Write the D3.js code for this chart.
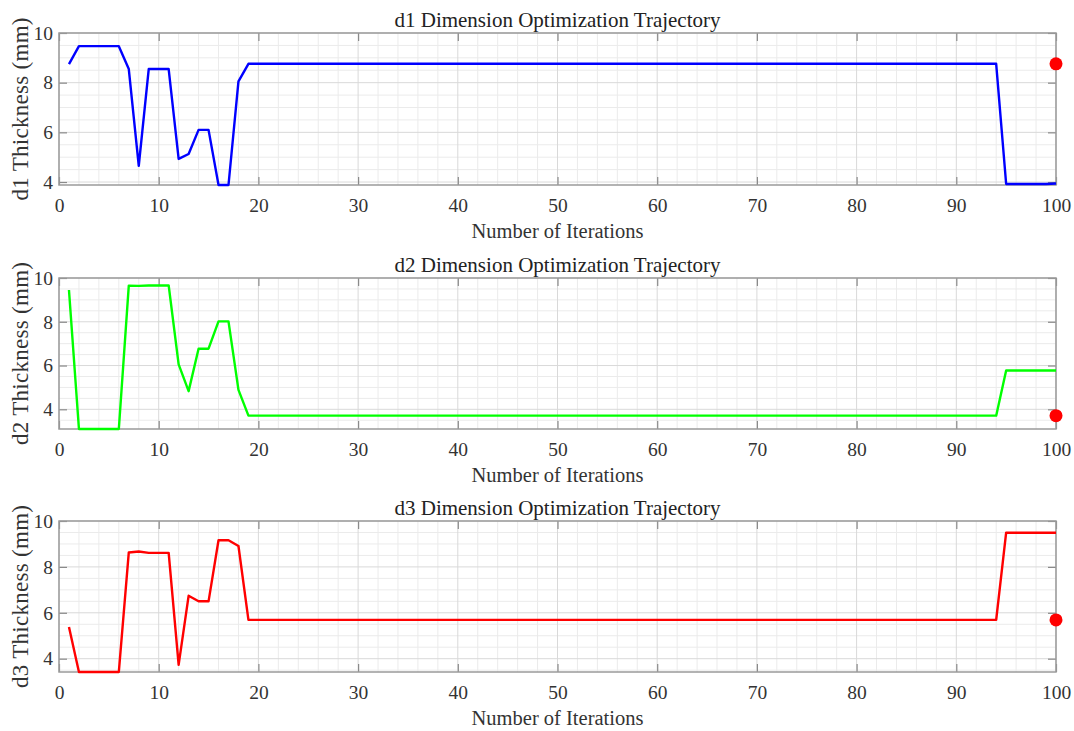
<!DOCTYPE html>
<html><head><meta charset="utf-8">
<script src="https://cdn.jsdelivr.net/npm/d3@7"></script>
<style>body{margin:0;background:#fff} svg{display:block}</style>
</head><body>
<svg id="chart" width="1074" height="731"></svg>
<script>
// ---- data ----
const iterations = d3.range(1, 101);
const d1Values = [8.75, 9.47, 9.47, 9.47, 9.47, 9.47, 8.55, 4.65, 8.55, 8.55,
  8.55, 4.93, 5.13, 6.10, 6.10, 3.88, 3.88, 8.05, 8.76, 8.76,
  8.76, 8.76, 8.76, 8.76, 8.76, 8.76, 8.76, 8.76, 8.76, 8.76,
  8.76, 8.76, 8.76, 8.76, 8.76, 8.76, 8.76, 8.76, 8.76, 8.76,
  8.76, 8.76, 8.76, 8.76, 8.76, 8.76, 8.76, 8.76, 8.76, 8.76,
  8.76, 8.76, 8.76, 8.76, 8.76, 8.76, 8.76, 8.76, 8.76, 8.76,
  8.76, 8.76, 8.76, 8.76, 8.76, 8.76, 8.76, 8.76, 8.76, 8.76,
  8.76, 8.76, 8.76, 8.76, 8.76, 8.76, 8.76, 8.76, 8.76, 8.76,
  8.76, 8.76, 8.76, 8.76, 8.76, 8.76, 8.76, 8.76, 8.76, 8.76,
  8.76, 8.76, 8.76, 8.76, 3.92, 3.92, 3.92, 3.92, 3.92, 3.94];
const d2Values = [9.45, 3.10, 3.10, 3.10, 3.10, 3.10, 9.65, 9.64, 9.66, 9.66,
  9.66, 6.05, 4.83, 6.77, 6.77, 8.02, 8.02, 4.89, 3.71, 3.71,
  3.71, 3.71, 3.71, 3.71, 3.71, 3.71, 3.71, 3.71, 3.71, 3.71,
  3.71, 3.71, 3.71, 3.71, 3.71, 3.71, 3.71, 3.71, 3.71, 3.71,
  3.71, 3.71, 3.71, 3.71, 3.71, 3.71, 3.71, 3.71, 3.71, 3.71,
  3.71, 3.71, 3.71, 3.71, 3.71, 3.71, 3.71, 3.71, 3.71, 3.71,
  3.71, 3.71, 3.71, 3.71, 3.71, 3.71, 3.71, 3.71, 3.71, 3.71,
  3.71, 3.71, 3.71, 3.71, 3.71, 3.71, 3.71, 3.71, 3.71, 3.71,
  3.71, 3.71, 3.71, 3.71, 3.71, 3.71, 3.71, 3.71, 3.71, 3.71,
  3.71, 3.71, 3.71, 3.71, 5.77, 5.77, 5.77, 5.77, 5.77, 5.77];
const d3Values = [5.38, 3.42, 3.42, 3.42, 3.42, 3.42, 8.63, 8.67, 8.61, 8.61,
  8.61, 3.73, 6.74, 6.50, 6.50, 9.16, 9.16, 8.91, 5.69, 5.69,
  5.69, 5.69, 5.69, 5.69, 5.69, 5.69, 5.69, 5.69, 5.69, 5.69,
  5.69, 5.69, 5.69, 5.69, 5.69, 5.69, 5.69, 5.69, 5.69, 5.69,
  5.69, 5.69, 5.69, 5.69, 5.69, 5.69, 5.69, 5.69, 5.69, 5.69,
  5.69, 5.69, 5.69, 5.69, 5.69, 5.69, 5.69, 5.69, 5.69, 5.69,
  5.69, 5.69, 5.69, 5.69, 5.69, 5.69, 5.69, 5.69, 5.69, 5.69,
  5.69, 5.69, 5.69, 5.69, 5.69, 5.69, 5.69, 5.69, 5.69, 5.69,
  5.69, 5.69, 5.69, 5.69, 5.69, 5.69, 5.69, 5.69, 5.69, 5.69,
  5.69, 5.69, 5.69, 5.69, 9.49, 9.49, 9.49, 9.49, 9.49, 9.49];
const finalIteration = 100;
const finalValues = [8.76, 3.71, 5.69];
const seriesNames = ["d1", "d2", "d3"];
const titles = ["d1 Dimension Optimization Trajectory", "d2 Dimension Optimization Trajectory", "d3 Dimension Optimization Trajectory"];
const yLabels = ["d1  Thickness (mm)", "d2  Thickness (mm)", "d3  Thickness (mm)"];
const xLabel = "Number of Iterations";
const xTicks = [0, 10, 20, 30, 40, 50, 60, 70, 80, 90, 100];
const yTicks = [4, 6, 8, 10];
const lineColors = ["#0000ff", "#00ff00", "#ff0000"];
const allSeries = [d1Values, d2Values, d3Values];

// ---- layout ----
const svg = d3.select("#chart");
const FONT = "'Liberation Serif','Times New Roman',serif";
const left = 59, right = 1056;
const tops = [33, 278, 521], bottoms = [185, 429, 672];

const x = d3.scaleLinear().domain([0, 100]).range([left, right]);

allSeries.forEach((vals, i) => {
  const top = tops[i], bottom = bottoms[i];
  const ymin = d3.min(vals);
  const y = d3.scaleLinear().domain([ymin, 10]).range([bottom, top]);
  const g = svg.append("g");

  // minor grid
  const xMinor = d3.range(0, 101, 2).filter(v => v % 10 !== 0);
  const yMinor = d3.range(Math.ceil(ymin * 2) / 2, 10.001, 0.5).filter(v => Math.abs(v % 2) > 1e-6);
  g.append("g").selectAll("line").data(xMinor).join("line")
    .attr("x1", d => x(d)).attr("x2", d => x(d)).attr("y1", top).attr("y2", bottom)
    .attr("stroke", "#ebebeb").attr("stroke-width", 1);
  g.append("g").selectAll("line").data(yMinor).join("line")
    .attr("x1", left).attr("x2", right).attr("y1", d => y(d)).attr("y2", d => y(d))
    .attr("stroke", "#ebebeb").attr("stroke-width", 1);
  // major grid
  g.append("g").selectAll("line").data(xTicks).join("line")
    .attr("x1", d => x(d)).attr("x2", d => x(d)).attr("y1", top).attr("y2", bottom)
    .attr("stroke", "#d9d9d9").attr("stroke-width", 1);
  g.append("g").selectAll("line").data(yTicks).join("line")
    .attr("x1", left).attr("x2", right).attr("y1", d => y(d)).attr("y2", d => y(d))
    .attr("stroke", "#d9d9d9").attr("stroke-width", 1);

  // axes
  const styleAxis = sel => {
    sel.select(".domain").remove();
    sel.selectAll(".tick line").attr("stroke", "#8a8a8a").attr("stroke-width", 1.2);
    sel.selectAll(".tick text").attr("fill", "#333").style("font-family", FONT).style("font-size", "19.5px");
  };
  g.append("g").attr("transform", `translate(0,${bottom})`)
    .call(d3.axisBottom(x).tickValues(xTicks).tickSize(-8).tickPadding(13).tickFormat(d3.format("d")))
    .call(styleAxis);
  g.append("g").attr("transform", `translate(0,${top})`)
    .call(d3.axisTop(x).tickValues(xTicks).tickSize(-8).tickFormat(""))
    .call(styleAxis);
  g.append("g").attr("transform", `translate(${left},0)`)
    .call(d3.axisLeft(y).tickValues(yTicks).tickSize(-8).tickPadding(6).tickFormat(d3.format("d")))
    .call(styleAxis);
  g.append("g").attr("transform", `translate(${right},0)`)
    .call(d3.axisRight(y).tickValues(yTicks).tickSize(-8).tickFormat(""))
    .call(styleAxis);

  // box
  g.append("rect").attr("x", left).attr("y", top).attr("width", right - left).attr("height", bottom - top)
    .attr("fill", "none").attr("stroke", "#9a9a9a").attr("stroke-width", 1.5);

  // series line
  const line = d3.line().x((d, j) => x(iterations[j])).y(d => y(d));
  g.append("path").datum(vals).attr("d", line)
    .attr("fill", "none").attr("stroke", lineColors[i]).attr("stroke-width", 2.4)
    .attr("stroke-linejoin", "round");

  // final marker
  g.append("circle").attr("cx", x(finalIteration)).attr("cy", y(finalValues[i])).attr("r", 6.5)
    .attr("fill", "#ff0000");

  // title
  g.append("text").attr("x", (left + right) / 2).attr("y", top - 6).attr("text-anchor", "middle")
    .style("font-family", FONT).style("font-size", "21px").attr("fill", "#222").text(titles[i]);
  // x label
  g.append("text").attr("x", (left + right) / 2).attr("y", bottom + 53).attr("text-anchor", "middle")
    .style("font-family", FONT).style("font-size", "20.5px").attr("fill", "#333").text(xLabel);
  // y label
  g.append("text").attr("transform", `translate(28,${(top + bottom) / 2}) rotate(-90)`)
    .attr("text-anchor", "middle").attr("textLength", 183).attr("lengthAdjust", "spacing")
    .style("font-family", FONT).style("font-size", "23px").attr("fill", "#333").text(yLabels[i]);
});
</script>
</body></html>
